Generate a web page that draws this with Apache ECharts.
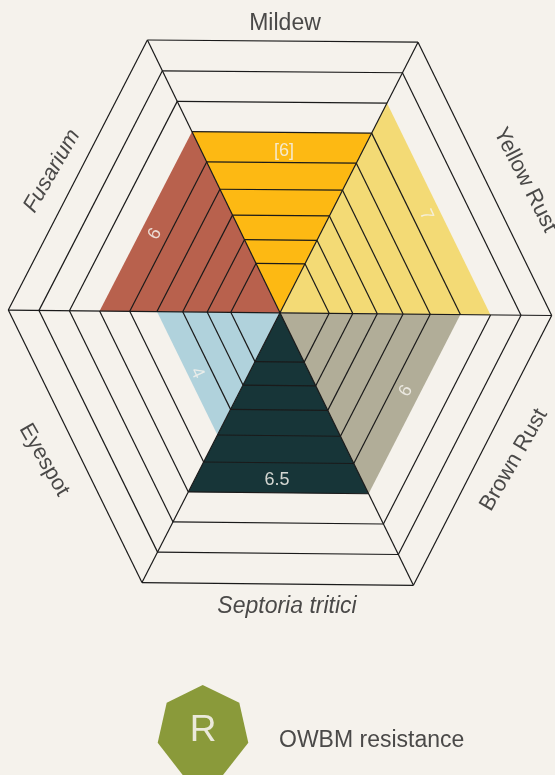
<!DOCTYPE html>
<html lang="en">

<head>
  <meta charset="utf-8">
  <title>Disease resistance</title>
  <script src="https://cdn.jsdelivr.net/npm/echarts@6/dist/echarts.min.js"></script>
  <style>
    html, body { margin: 0; padding: 0; background: #f5f2ec; }
  </style>
</head>

<body>
<div id="main" style="width: 555px;height:775px"></div>
<script type="text/javascript">
    // clockwise from the top
    var diseases = ['Mildew', 'Yellow Rust', 'Brown Rust', 'Septoria tritici', 'Eyespot', 'Fusarium'];
    var scores = [6, 7, 6, 6.5, 4, 6];
    var scoreLabels = ['[6]', '7', '6', '6.5', '4', '6'];
    var colors = ['#fdb913', '#f3da75', '#b1ad98', '#173538', '#b0d2dc', '#b8614d'];

    // the rings are not evenly spaced, radius of ring 0..9 as a share of the outer one
    var ringRadius = [0, 0.181, 0.268, 0.358, 0.453, 0.553, 0.664, 0.775, 0.887, 1];
    // hexagon corners at ring 9, top left first, clockwise
    var cornerX = [-0.488, 0.508, 1, 0.491, -0.508, -1];
    var cornerY = [1.004, 0.996, -0.010, -1.003, -0.993, 0.010];

    var FONT = 'Liberation Sans';
    var TEXT_COLOR = '#4a4948';
    var LINE_COLOR = '#1a1a1a';

    // text spots in page pixels: [x, y, rotation in degrees]
    var nameSpots = [[285, 23.5, 0], [525, 180, -63], [514, 460, 60], [287, 607, 0], [44, 460, -60], [52, 171, 60]];
    var nameSizes = [23, 22, 22, 23, 22, 22];
    var scoreSpots = [[284, 151, 0], [426, 215, -65], [406, 391, 60], [277, 480, 0], [197, 373, -65], [155, 234, 60]];

    function corner(api, c, ring) {
        var r = ringRadius[ring];
        return api.coord([cornerX[c % 6] * r, cornerY[c % 6] * r]);
    }

    function textItem(str, spot, color, size, italic) {
        return {
            type: 'text',
            x: spot[0],
            y: spot[1],
            rotation: spot[2] * Math.PI / 180,
            style: {
                text: str,
                fill: color,
                fontFamily: FONT,
                fontStyle: italic ? 'italic' : 'normal',
                fontSize: size,
                align: 'center',
                verticalAlign: 'middle'
            }
        };
    }

    function renderWedge(params, api) {
        var s = params.dataIndex;
        var ring = Math.floor(api.value(1));
        return {
            type: 'polygon',
            shape: {points: [corner(api, s, 0), corner(api, s, ring), corner(api, s + 1, ring)]},
            style: {fill: colors[s]}
        };
    }

    function renderLines(params, api) {
        var s = params.dataIndex;
        var ring = Math.floor(api.value(1));
        var children = [];
        var style = {stroke: LINE_COLOR, lineWidth: 1.2, fill: null};
        children.push({
            type: 'polyline',
            shape: {points: [corner(api, s, 0), corner(api, s, 9)]},
            style: style
        });
        for (var k = 1; k <= 9; k++) {
            // the slanted wedges have no dark edge where the colour stops
            if (k === ring && s % 3 !== 0) continue;
            children.push({
                type: 'polyline',
                shape: {points: [corner(api, s, k), corner(api, s + 1, k)]},
                style: style
            });
        }
        return {type: 'group', children: children};
    }

    function renderTexts(params, api) {
        var s = params.dataIndex;
        return {
            type: 'group',
            children: [
                textItem(diseases[s], nameSpots[s], TEXT_COLOR, nameSizes[s], s === 3 || s === 5),
                textItem(scoreLabels[s], scoreSpots[s], 'rgba(245,242,236,0.85)', 18, false)
            ]
        };
    }

    var seriesData = scores.map(function (v, i) { return [i, v]; });

    var myChart = echarts.init(document.getElementById('main'), null, {renderer: 'canvas'});

    var option = {
        animation: false,
        backgroundColor: '#f5f2ec',
        grid: {left: 8.3, top: 41.1, width: 543.4, height: 543.4},
        xAxis: {type: 'value', min: -1, max: 1, show: false},
        yAxis: {type: 'value', min: -1, max: 1, show: false},
        series: [
            {type: 'custom', renderItem: renderWedge, data: seriesData, z: 2, silent: true},
            {type: 'custom', renderItem: renderLines, data: seriesData, z: 3, silent: true},
            {type: 'custom', renderItem: renderTexts, data: seriesData, z: 4, silent: true}
        ],
        graphic: [
            {
                type: 'polygon',
                shape: {points: [[202.7, 685], [239.3, 702.7], [248.3, 742.7], [223, 775], [182.7, 775], [157.7, 742.7], [166.7, 702.7]]},
                style: {fill: '#8a9a3a'}
            },
            {
                type: 'text', x: 203, y: 731,
                style: {text: 'R', fill: 'rgba(245,242,236,0.9)', fontFamily: FONT, fontSize: 37, align: 'center', verticalAlign: 'middle'}
            },
            {
                type: 'text', x: 279, y: 740.5,
                style: {text: 'OWBM resistance', fill: TEXT_COLOR, fontFamily: FONT, fontSize: 23, align: 'left', verticalAlign: 'middle'}
            }
        ]
    };

    myChart.setOption(option);
</script>

</body>
</html>
